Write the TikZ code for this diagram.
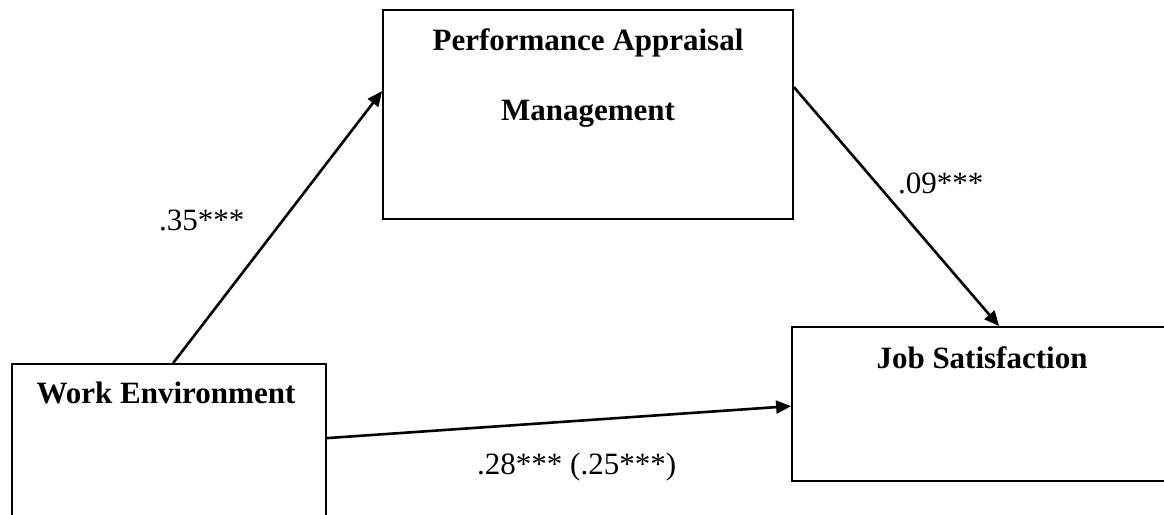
\documentclass[tikz,border=0pt]{standalone}
\usepackage{fontspec}
\setmainfont{Liberation Serif}
\usetikzlibrary{arrows.meta,calc}
\begin{document}
\begin{tikzpicture}[x=1pt,y=-1pt,
  box/.style={draw=black,line width=1.8pt,rectangle,inner sep=0pt,fill=none},
  boxtext/.style={font=\fontsize{31}{37}\selectfont\bfseries,inner sep=0pt},
  coef/.style={font=\fontsize{31}{37}\selectfont,inner sep=0pt,anchor=base west},
  path/.style={line width=2.6pt,-{Triangle[length=15pt,width=13pt]}}]
\useasboundingbox (0,0) rectangle (1164,514);
\clip (0,0) rectangle (1164,514);
\node[box,minimum width=410pt,minimum height=209pt] (pam) at (588,114.5) {};
\node[box,minimum width=400pt,minimum height=154pt] (js) at (992,404) {};
\node[box,minimum width=314pt,minimum height=180pt] (we) at (169,454) {};
\node[boxtext,anchor=base] (pamA) at (588,50) {Performance Appraisal};
\node[boxtext,anchor=base] (pamB) at (588,120) {Management};
\node[boxtext,anchor=base] (jsT) at (982,368) {Job Satisfaction};
\node[boxtext,anchor=base] (weT) at (166,403) {Work Environment};
\node[coef] (c1) at (159,230) {.35***};
\node[coef] (c2) at (898,193) {.09***};
\node[coef] (c3) at (477,474) {.28*** (.25***)};
\draw[path] ($(we.north west)+(162,0)$) -- ($(pam.north west)+(0,82)$);
\draw[path] ($(pam.north east)+(0,78)$) -- ($(js.north west)+(208,0)$);
\draw[path] ($(we.north east)+(0,75)$) -- ($(js.north west)+(0,80)$);
\end{tikzpicture}
\end{document}
